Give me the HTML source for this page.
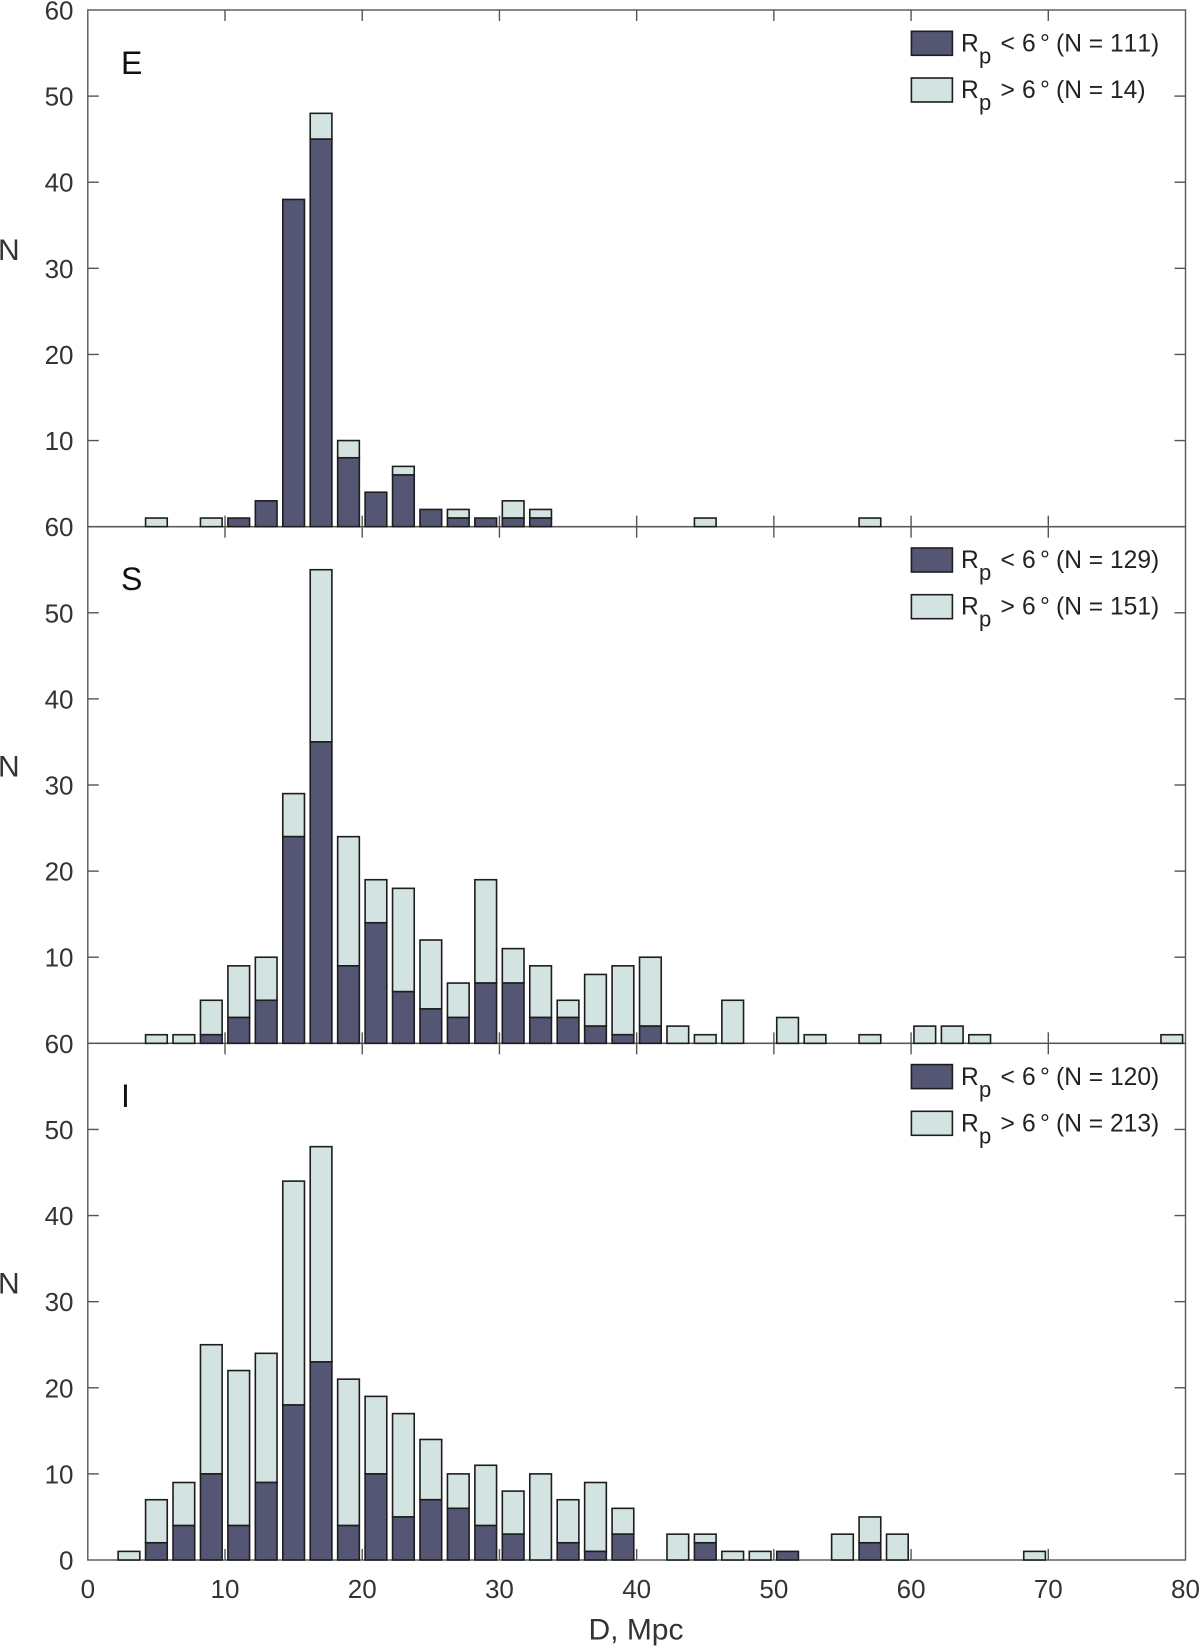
<!DOCTYPE html>
<html lang="en">
<head>
<meta charset="utf-8">
<title>Distance histograms by morphological type</title>
<style>
  html, body { margin: 0; padding: 0; background: #fff; }
  svg { display: block; font-family: "Liberation Sans", Arial, sans-serif; }
  .tick-label { font-size: 26px; fill: #333; }
  .axis-title { font-size: 30px; fill: #333; }
  .panel-letter { font-size: 32px; fill: #111; }
  .legend-text { font-size: 24.6px; fill: #222; font-kerning: none; }
  .legend-sub { font-size: 22px; fill: #222; }
</style>
</head>
<body>
<svg id="chart" xmlns="http://www.w3.org/2000/svg" width="1200" height="1648" viewBox="0 0 1200 1648">
  <rect x="0" y="0" width="1200" height="1648" fill="#ffffff"/>
  <g id="axes-layer"></g>
  <g id="bars-layer"></g>
  <g id="labels-layer"></g>

  <g>
    <text class="panel-letter" x="121" y="74">E</text>
    <rect x="911.4" y="31.3" width="41" height="24" fill="#555674" stroke="#1d1d1d" stroke-width="1.6"/>
    <text class="legend-text" y="51.5"><tspan x="961">R</tspan><tspan class="legend-sub" x="979" dy="12">p</tspan><tspan x="1000.5" dy="-12">&lt;</tspan><tspan x="1022">6</tspan><tspan x="1040">°</tspan><tspan x="1056">(N = 111)</tspan></text>
    <rect x="911.4" y="78" width="41" height="24" fill="#d3e3e2" stroke="#1d1d1d" stroke-width="1.6"/>
    <text class="legend-text" y="98"><tspan x="961">R</tspan><tspan class="legend-sub" x="979" dy="12">p</tspan><tspan x="1000.5" dy="-12">&gt;</tspan><tspan x="1022">6</tspan><tspan x="1040">°</tspan><tspan x="1056">(N = 14)</tspan></text>
  </g>
  <g>
    <text class="panel-letter" x="121" y="590">S</text>
    <rect x="911.4" y="548" width="41" height="24" fill="#555674" stroke="#1d1d1d" stroke-width="1.6"/>
    <text class="legend-text" y="568.2"><tspan x="961">R</tspan><tspan class="legend-sub" x="979" dy="12">p</tspan><tspan x="1000.5" dy="-12">&lt;</tspan><tspan x="1022">6</tspan><tspan x="1040">°</tspan><tspan x="1056">(N = 129)</tspan></text>
    <rect x="911.4" y="594.7" width="41" height="24" fill="#d3e3e2" stroke="#1d1d1d" stroke-width="1.6"/>
    <text class="legend-text" y="614.7"><tspan x="961">R</tspan><tspan class="legend-sub" x="979" dy="12">p</tspan><tspan x="1000.5" dy="-12">&gt;</tspan><tspan x="1022">6</tspan><tspan x="1040">°</tspan><tspan x="1056">(N = 151)</tspan></text>
  </g>
  <g>
    <text class="panel-letter" x="121" y="1107">I</text>
    <rect x="911.4" y="1064.6" width="41" height="24" fill="#555674" stroke="#1d1d1d" stroke-width="1.6"/>
    <text class="legend-text" y="1084.8"><tspan x="961">R</tspan><tspan class="legend-sub" x="979" dy="12">p</tspan><tspan x="1000.5" dy="-12">&lt;</tspan><tspan x="1022">6</tspan><tspan x="1040">°</tspan><tspan x="1056">(N = 120)</tspan></text>
    <rect x="911.4" y="1111.3" width="41" height="24" fill="#d3e3e2" stroke="#1d1d1d" stroke-width="1.6"/>
    <text class="legend-text" y="1131.3"><tspan x="961">R</tspan><tspan class="legend-sub" x="979" dy="12">p</tspan><tspan x="1000.5" dy="-12">&gt;</tspan><tspan x="1022">6</tspan><tspan x="1040">°</tspan><tspan x="1056">(N = 213)</tspan></text>
  </g>
  <text class="axis-title" x="636" y="1639.5" text-anchor="middle">D, Mpc</text>
</svg>
<script>
// Bin centres (Mpc) and counts per panel
const binsE = [5, 9, 11, 13, 15, 17, 19, 21, 23, 25, 27, 29, 31, 33, 45, 57];
const innerE = [0, 0, 1, 3, 38, 45, 8, 4, 6, 2, 1, 1, 1, 1, 0, 0];
const outerE = [1, 1, 0, 0, 0, 3, 2, 0, 1, 0, 1, 0, 2, 1, 1, 1];

const binsS = [5, 7, 9, 11, 13, 15, 17, 19, 21, 23, 25, 27, 29, 31, 33, 35, 37, 39, 41, 43, 45, 47, 51, 53, 57, 61, 63, 65, 79];
const innerS = [0, 0, 1, 3, 5, 24, 35, 9, 14, 6, 4, 3, 7, 7, 3, 3, 2, 1, 2, 0, 0, 0, 0, 0, 0, 0, 0, 0, 0];
const outerS = [1, 1, 4, 6, 5, 5, 20, 15, 5, 12, 8, 4, 12, 4, 6, 2, 6, 8, 8, 2, 1, 5, 3, 1, 1, 2, 2, 1, 1];

const binsI = [3, 5, 7, 9, 11, 13, 15, 17, 19, 21, 23, 25, 27, 29, 31, 33, 35, 37, 39, 43, 45, 47, 49, 51, 55, 57, 59, 69];
const innerI = [0, 2, 4, 10, 4, 9, 18, 23, 4, 10, 5, 7, 6, 4, 3, 0, 2, 1, 3, 0, 2, 0, 0, 1, 0, 2, 0, 0];
const outerI = [1, 5, 5, 15, 18, 15, 26, 25, 17, 9, 12, 7, 4, 7, 5, 10, 5, 8, 3, 3, 1, 1, 1, 0, 3, 3, 3, 1];

const xTickValues = [0, 10, 20, 30, 40, 50, 60, 70, 80];
const yTickValues = [0, 10, 20, 30, 40, 50, 60];

const panelNames = ['e', 's', 'i'];
const panelBins = [binsE, binsS, binsI];
const panelInner = [innerE, innerS, innerI];
const panelOuter = [outerE, outerS, outerI];

const NS = 'http://www.w3.org/2000/svg';
const plotLeft = 87.8, plotRight = 1185.5, plotTop = 10, plotBottom = 1560;
const panelHeight = (plotBottom - plotTop) / 3;
const xMax = 80, yMax = 60, barWidthUnits = 1.58, tickLen = 11;
const axisColor = '#555555', edgeColor = '#1d1d1d', innerFill = '#555674', outerFill = '#d3e3e2';

const xScale = v => plotLeft + (v / xMax) * (plotRight - plotLeft);
const yScale = (panel, v) => plotTop + panelHeight * (panel + 1) - (v / yMax) * panelHeight;

const axesLayer = document.getElementById('axes-layer');
const barsLayer = document.getElementById('bars-layer');
const labelsLayer = document.getElementById('labels-layer');

function makeLine(parent, x1, y1, x2, y2) {
  const l = document.createElementNS(NS, 'line');
  l.setAttribute('x1', x1);
  l.setAttribute('y1', y1);
  l.setAttribute('x2', x2);
  l.setAttribute('y2', y2);
  l.setAttribute('stroke', axisColor);
  l.setAttribute('stroke-width', '1.4');
  parent.appendChild(l);
  return l;
}

function makeBar(parent, centre, low, high, panel, fill) {
  const r = document.createElementNS(NS, 'rect');
  const yTop = yScale(panel, high);
  const yBot = yScale(panel, low);
  r.setAttribute('x', xScale(centre - barWidthUnits / 2));
  r.setAttribute('y', yTop);
  r.setAttribute('width', xScale(barWidthUnits) - xScale(0));
  r.setAttribute('height', yBot - yTop);
  r.setAttribute('fill', fill);
  r.setAttribute('stroke', edgeColor);
  r.setAttribute('stroke-width', '1.6');
  parent.appendChild(r);
  return r;
}

panelNames.forEach((name, p) => {
  const axisGroup = document.createElementNS(NS, 'g');
  
  
  axesLayer.appendChild(axisGroup);

  const top = yScale(p, yMax);
  const bottom = yScale(p, 0);

  const box = document.createElementNS(NS, 'rect');
  
  
  box.setAttribute('x', plotLeft);
  box.setAttribute('y', top);
  box.setAttribute('width', plotRight - plotLeft);
  box.setAttribute('height', bottom - top);
  box.setAttribute('fill', 'none');
  box.setAttribute('stroke', axisColor);
  box.setAttribute('stroke-width', '1.4');
  axisGroup.appendChild(box);

  xTickValues.slice(1, -1).forEach(v => {
    const a = makeLine(axisGroup, xScale(v), bottom, xScale(v), bottom - tickLen);
    
    
    const b = makeLine(axisGroup, xScale(v), top, xScale(v), top + tickLen);
    
    
  });

  yTickValues.slice(1, -1).forEach(v => {
    const a = makeLine(axisGroup, plotLeft, yScale(p, v), plotLeft + tickLen, yScale(p, v));
    
    
    const b = makeLine(axisGroup, plotRight, yScale(p, v), plotRight - tickLen, yScale(p, v));
    
    
  });

  const barGroup = document.createElementNS(NS, 'g');
  
  
  barsLayer.appendChild(barGroup);

  panelBins[p].forEach((centre, i) => {
    const inner = panelInner[p][i];
    const outer = panelOuter[p][i];
    if (outer > 0) {
      const o = makeBar(barGroup, centre, inner, inner + outer, p, outerFill);
      
      
    }
    if (inner > 0) {
      const d = makeBar(barGroup, centre, 0, inner, p, innerFill);
      
      
    }
  });

  yTickValues.forEach(v => {
    if (v === 0 && p < 2) return;
    const t = document.createElementNS(NS, 'text');
    
    
    t.setAttribute('class', 'tick-label');
    t.setAttribute('x', 73.5);
    t.setAttribute('y', yScale(p, v) + 9.5);
    t.setAttribute('text-anchor', 'end');
    t.textContent = v;
    labelsLayer.appendChild(t);
  });

  const yTitle = document.createElementNS(NS, 'text');
  
  
  yTitle.setAttribute('class', 'axis-title');
  yTitle.setAttribute('x', -2);
  yTitle.setAttribute('y', yScale(p, 0) - 266.7);
  yTitle.textContent = 'N';
  labelsLayer.appendChild(yTitle);
});

xTickValues.forEach(v => {
  const t = document.createElementNS(NS, 'text');
  
  
  t.setAttribute('class', 'tick-label');
  t.setAttribute('x', xScale(v));
  t.setAttribute('y', 1598);
  t.setAttribute('text-anchor', 'middle');
  t.textContent = v;
  labelsLayer.appendChild(t);
});
</script>
</body>
</html>
